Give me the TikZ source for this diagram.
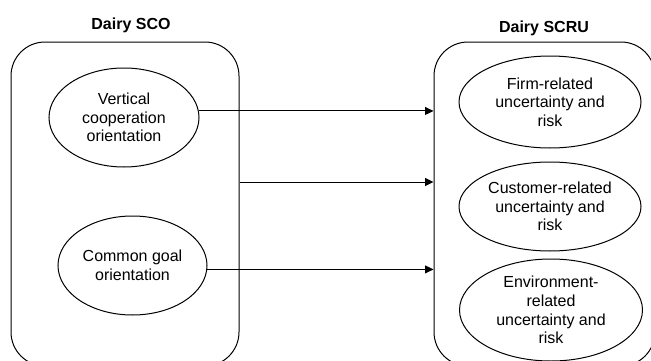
\documentclass[tikz,border=0pt]{standalone}
\usepackage{fontspec}
\setmainfont{Liberation Sans}
\usetikzlibrary{arrows.meta,calc,shapes.geometric}

\begin{document}
\begin{tikzpicture}[
      x=1pt, y=1pt,
      every node/.style={font=\fontsize{16}{18.7}\selectfont},
      grp/.style={draw, line width=1pt, rounded corners=34pt,
                  minimum width=#1, minimum height=324pt, inner sep=0pt},
      oval/.style={draw, line width=1pt, ellipse, inner sep=0pt, align=center},
      head/.style={font=\fontsize{16}{18.7}\selectfont\bfseries, anchor=base},
      flow/.style={-{Triangle[length=8.5pt,width=8pt]}, line width=1pt}
    ]
    \clip (0,0) rectangle (651,360);

    % Grupos
    \node[grp=228pt] (sco) at (125,156) {};
    \node[grp=221pt] (scru) at (544.5,156) {};

    % Titulos
    \node[head] (tsco)  at (131,330.7) {Dairy SCO};
    \node[head] (tscru) at (544,327.3) {Dairy SCRU};

    % Orientacoes
    \node[oval, minimum width=150pt, minimum height=99pt] (vco) at (124,242.5)
      {Vertical\\cooperation\\orientation};
    \node[oval, minimum width=149pt, minimum height=99pt] (cgo) at (132.5,94.5)
      {Common goal\\orientation};

    % Incertezas e riscos
    \node[oval, minimum width=182pt, minimum height=92pt] (fur) at (550,258)
      {Firm-related\\uncertainty and\\risk};
    \node[oval, minimum width=182pt, minimum height=89pt] (cur) at (550,153.5)
      {Customer-related\\uncertainty and\\risk};
    \node[oval, minimum width=183pt, minimum height=102pt] (eur) at (551,50)
      {Environment-\\related\\uncertainty and\\risk};

    % Fluxos
    \coordinate (smid) at ($(sco.east)+(0,22)$);
    \draw[flow] (vco.5) -- (vco.5 -| scru.west);
    \draw[flow] (smid) -- (smid -| scru.west);
    \draw[flow] (cgo.-3) -- (cgo.-3 -| scru.west);
  \end{tikzpicture}
\end{document}
